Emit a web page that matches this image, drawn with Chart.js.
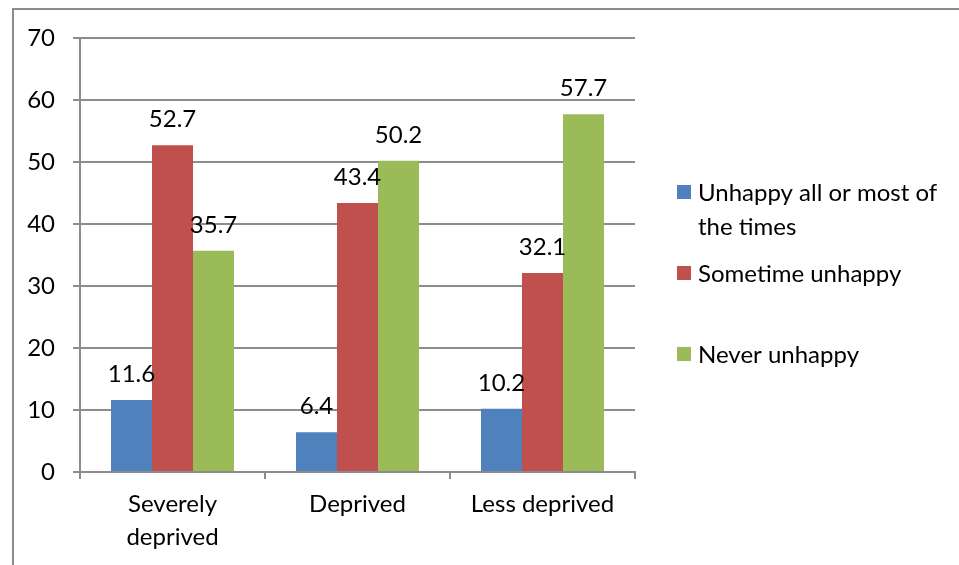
<!DOCTYPE html>
<html>
<head>
<meta charset="utf-8">
<script src="https://cdn.jsdelivr.net/npm/chart.js@4/dist/chart.umd.min.js"></script>
<style>
  html, body { margin:0; padding:0; background:#fff; }
  #wrap { position:relative; width:959px; height:565px; overflow:hidden; }
  #frame { position:absolute; left:12px; top:8px; width:960px; height:570px;
           border-left:2px solid #8c8c8c; border-top:2px solid #8c8c8c; }
  canvas { position:absolute; left:0; top:0; }
</style>
</head>
<body>
<div id="wrap">
  <div id="frame"></div>
  <canvas id="bars" width="959" height="565"></canvas>
</div>
<script>
const categories = [['Severely', 'deprived'], 'Deprived', 'Less deprived'];
const seriesNames = [['Unhappy all or most of', 'the times'], 'Sometime unhappy', 'Never unhappy'];
const unhappyAll = [11.6, 6.4, 10.2];
const sometime   = [52.7, 43.4, 32.1];
const never      = [35.7, 50.2, 57.7];
const colors     = ['#4F81BD', '#C0504D', '#9BBB59'];

(function(){
  const font = { family: 'Lato, "Open Sans", sans-serif', size: 24 };
  const cText = '#000';
  const cGrid = '#8c8c8c';

  const valueLabels = {
    id: 'valueLabels',
    afterDatasetsDraw(chart) {
      const ctx = chart.ctx;
      ctx.save();
      ctx.font = `${font.size}px ${font.family}`;
      ctx.fillStyle = cText;
      ctx.textAlign = 'center';
      ctx.textBaseline = 'alphabetic';
      chart.data.datasets.forEach((ds, i) => {
        chart.getDatasetMeta(i).data.forEach((bar, j) => {
          ctx.fillText(ds.data[j].toFixed(1), bar.x, bar.y - 18);
        });
      });
      ctx.restore();
    }
  };

  const sideLegend = {
    id: 'sideLegend',
    afterDraw(chart) {
      const ctx = chart.ctx;
      const x = chart.chartArea.right + 42;
      const rows = [192, 273, 354];
      ctx.save();
      ctx.font = `${font.size}px ${font.family}`;
      ctx.textBaseline = 'middle';
      chart.data.datasets.forEach((ds, i) => {
        const y = rows[i];
        ctx.fillStyle = ds.backgroundColor;
        ctx.fillRect(x, y - 7, 14, 14);
        ctx.fillStyle = cText;
        const lines = Array.isArray(ds.label) ? ds.label : [ds.label];
        lines.forEach((t, k) => ctx.fillText(t, x + 21, y + 1 + k * 34));
      });
      ctx.restore();
    }
  };

  new Chart(document.getElementById('bars'), {
    type: 'bar',
    data: {
      labels: categories,
      datasets: [
        { label: seriesNames[0], data: unhappyAll, backgroundColor: colors[0] },
        { label: seriesNames[1], data: sometime,   backgroundColor: colors[1] },
        { label: seriesNames[2], data: never,      backgroundColor: colors[2] }
      ]
    },
    options: {
      responsive: false,
      animation: false,
      layout: { padding: { left: 0, top: 38, right: 324, bottom: 0 } },
      datasets: { bar: { categoryPercentage: 0.665, barPercentage: 1, borderWidth: 0 } },
      scales: {
        x: {
          grid: { offset: true, drawOnChartArea: false, color: cGrid, lineWidth: 2, tickLength: 7 },
          border: { color: cGrid, width: 2 },
          ticks: { color: cText, font: { ...font, lineHeight: 1.4 }, padding: 8, maxRotation: 0 },
          afterFit(s) { s.height = 93; }
        },
        y: {
          min: 0, max: 70,
          grid: { color: cGrid, lineWidth: 2, tickLength: 7 },
          border: { color: cGrid, width: 2 },
          ticks: { stepSize: 10, color: cText, font: font, padding: 18 },
          afterFit(s) { s.width = 80; }
        }
      },
      plugins: {
        legend: { display: false },
        tooltip: { enabled: false }
      }
    },
    plugins: [valueLabels, sideLegend]
  });
})();
</script>
</body>
</html>
